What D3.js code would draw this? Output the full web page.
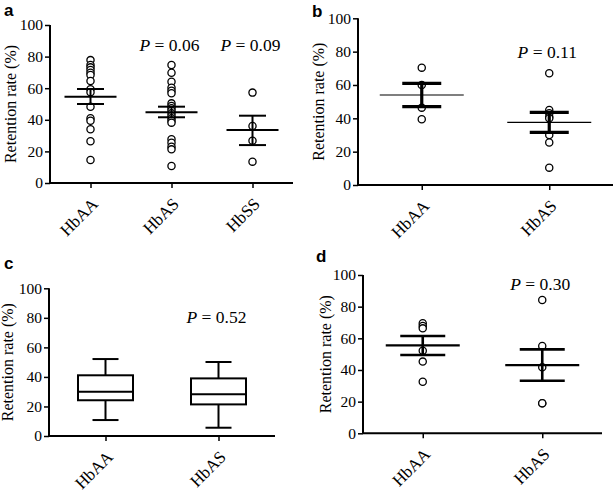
<!DOCTYPE html>
<html>
<head>
<meta charset="utf-8">
<script src="https://cdn.jsdelivr.net/npm/d3@7"></script>
<style>
  body { margin: 0; background: #fff; }
  text { font-family: "Liberation Serif", "Times New Roman", serif; fill: #000; }
</style>
</head>
<body>
<svg id="chart" width="614" height="492"></svg>
<script>
// panel a
const aGroups = ["HbAA", "HbAS", "HbSS"];
const aHbAA = [77.8, 74.7, 73.2, 71.5, 69.8, 68.4, 64.6, 59.3, 57.5, 48.3, 41, 39.4, 34, 26.4, 14.6];
const aHbAS = [74.7, 69.8, 64.1, 60.3, 58.4, 56.8, 50.4, 48.7, 47.3, 45.8, 44.1, 42.4, 41, 39.4, 38.2, 27.7, 25.5, 23, 21.3, 10.8];
const aHbSS = [57.2, 36.1, 26.8, 13.5];
const aMean = [54.6, 44.7, 33.5];
const aSemLow = [50, 41.6, 24];
const aSemHigh = [59.5, 48.3, 42.6];
const aP = ["", "0.06", "0.09"];

// panel b
const bGroups = ["HbAA", "HbAS"];
const bHbAA = [70.4, 60, 46.4, 39.4];
const bHbAS = [67, 45, 43, 41, 40, 30, 25.5, 10.4];
const bMean = [54, 37.6];
const bSemLow = [47, 31.6];
const bSemHigh = [61, 43.6];
const bP = ["", "0.11"];

// panel c (box plot)
const cGroups = ["HbAA", "HbAS"];
const cMin = [10.8, 5.6];
const cQ1 = [24.2, 21.4];
const cMedian = [30, 28.2];
const cQ3 = [41.1, 39];
const cMax = [52.1, 50.1];
const cP = ["", "0.52"];

// panel d
const dGroups = ["HbAA", "HbAS"];
const dHbAA = [69.5, 67.8, 66.3, 52.2, 45.3, 32.6];
const dHbAS = [84.2, 55.2, 41.7, 19, 19];
const dMean = [55.6, 43.1];
const dSemLow = [49.5, 33.2];
const dSemHigh = [61.5, 53];
const dP = ["", "0.30"];

const yTicks = [0, 20, 40, 60, 80, 100];

const svg = d3.select("#chart");
svg.append("rect").attr("width", 614).attr("height", 492).attr("fill", "#fff");

function drawPanel(cfg) {
  const x = d3.scalePoint().domain(cfg.groups).range([cfg.left, cfg.right]).padding(0.5);
  const y = d3.scaleLinear().domain([0, 100]).range([cfg.bottom, cfg.top]);
  const g = svg.append("g");

  // y axis
  const ya = g.append("g")
    .attr("transform", `translate(${cfg.left},0)`)
    .call(d3.axisLeft(y).tickValues(yTicks).tickSize(5).tickSizeOuter(0).tickPadding(2));
  ya.select(".domain").attr("stroke-width", 2).attr("d", `M0,${cfg.bottom}V${cfg.top}`);
  ya.selectAll(".tick line").attr("stroke-width", 1.5);
  ya.selectAll(".tick text").style("font-size", "15.5px").style("font-family", "Liberation Serif");

  // x axis
  const xa = g.append("g")
    .attr("transform", `translate(0,${cfg.bottom})`)
    .call(d3.axisBottom(x).tickSize(5).tickSizeOuter(0));
  xa.select(".domain").attr("stroke-width", 2).attr("d", `M${cfg.left},0H${cfg.right}`);
  xa.selectAll(".tick line").attr("stroke-width", 1.5);
  xa.selectAll(".tick text")
    .style("font-size", "17px")
    .style("font-family", "Liberation Serif")
    .attr("text-anchor", "end")
    .attr("dy", null)
    .attr("y", 0)
    .attr("transform", "translate(8,22) rotate(-45)");

  // y label
  g.append("text")
    .attr("transform", `translate(${cfg.labelX},${(cfg.top + cfg.bottom) / 2}) rotate(-90)`)
    .attr("text-anchor", "middle")
    .style("font-size", "16px")
    .text("Retention rate (%)");

  // panel letter
  g.append("text")
    .attr("x", cfg.letterX)
    .attr("y", cfg.letterY)
    .style("font-family", "Liberation Sans")
    .style("font-weight", "bold")
    .style("font-size", "17px")
    .text(cfg.letter);

  // P values
  cfg.groups.forEach((grp, i) => {
    if (!cfg.p[i]) return;
    const t = g.append("text")
      .attr("x", x(grp) - 2)
      .attr("y", y(cfg.pY))
      .attr("text-anchor", "middle")
      .style("font-size", "17.5px");
    t.append("tspan").style("font-style", "italic").text("P");
    t.append("tspan").text(" = " + cfg.p[i]);
  });

  return { g, x, y };
}

function drawDots(p, groups, series, mean, low, high, st) {
  const { g, x, y } = p;
  groups.forEach((grp, i) => {
    g.selectAll(null)
      .data(series[i])
      .join("circle")
      .attr("cx", x(grp))
      .attr("cy", (d) => y(d))
      .attr("r", 3.6)
      .attr("fill", "#fff")
      .attr("stroke", "#000")
      .attr("stroke-width", 1.3);
  });
  const cx = (i) => x(groups[i]);
  const idx = d3.range(groups.length);
  // mean line
  g.selectAll(null).data(idx).join("line")
    .attr("x1", (i) => cx(i) - st.meanHalf).attr("x2", (i) => cx(i) + st.meanHalf)
    .attr("y1", (i) => y(mean[i])).attr("y2", (i) => y(mean[i]))
    .attr("stroke", "#000").attr("stroke-width", st.meanW);
  // SEM stem
  g.selectAll(null).data(idx).join("line")
    .attr("x1", cx).attr("x2", cx)
    .attr("y1", (i) => y(low[i])).attr("y2", (i) => y(high[i]))
    .attr("stroke", "#000").attr("stroke-width", st.capW);
  // caps
  [low, high].forEach((arr) => {
    g.selectAll(null).data(idx).join("line")
      .attr("x1", (i) => cx(i) - st.capHalf).attr("x2", (i) => cx(i) + st.capHalf)
      .attr("y1", (i) => y(arr[i])).attr("y2", (i) => y(arr[i]))
      .attr("stroke", "#000").attr("stroke-width", st.capW);
  });
}

// a
const pa = drawPanel({ groups: aGroups, left: 50, right: 293, top: 25, bottom: 183,
  labelX: 16, letter: "a", letterX: 4, letterY: 16, p: aP, pY: 83.7 });
drawDots(pa, aGroups, [aHbAA, aHbAS, aHbSS], aMean, aSemLow, aSemHigh,
  { meanHalf: 26, meanW: 2, capHalf: 13.5, capW: 2 });

// b
const pb = drawPanel({ groups: bGroups, left: 358, right: 613, top: 18.3, bottom: 185,
  labelX: 324, letter: "b", letterX: 312, letterY: 17, p: bP, pY: 76 });
drawDots(pb, bGroups, [bHbAA, bHbAS], bMean, bSemLow, bSemHigh,
  { meanHalf: 42, meanW: 1.2, capHalf: 19.5, capW: 3.2 });

// c
const pc = drawPanel({ groups: cGroups, left: 49, right: 275, top: 288.3, bottom: 436,
  labelX: 13, letter: "c", letterX: 4, letterY: 269, p: cP, pY: 76.3 });
{
  const { g, x, y } = pc;
  const idx = d3.range(cGroups.length);
  const cx = (i) => x(cGroups[i]);
  const boxHalf = 27.5, capHalf = 13;
  g.selectAll(null).data(idx).join("line")
    .attr("x1", cx).attr("x2", cx)
    .attr("y1", (i) => y(cMin[i])).attr("y2", (i) => y(cQ1[i]))
    .attr("stroke", "#000").attr("stroke-width", 2);
  g.selectAll(null).data(idx).join("line")
    .attr("x1", cx).attr("x2", cx)
    .attr("y1", (i) => y(cQ3[i])).attr("y2", (i) => y(cMax[i]))
    .attr("stroke", "#000").attr("stroke-width", 2);
  [cMin, cMax].forEach((arr) => {
    g.selectAll(null).data(idx).join("line")
      .attr("x1", (i) => cx(i) - capHalf).attr("x2", (i) => cx(i) + capHalf)
      .attr("y1", (i) => y(arr[i])).attr("y2", (i) => y(arr[i]))
      .attr("stroke", "#000").attr("stroke-width", 2);
  });
  g.selectAll(null).data(idx).join("rect")
    .attr("x", (i) => cx(i) - boxHalf).attr("width", boxHalf * 2)
    .attr("y", (i) => y(cQ3[i])).attr("height", (i) => y(cQ1[i]) - y(cQ3[i]))
    .attr("fill", "#fff").attr("stroke", "#000").attr("stroke-width", 2);
  g.selectAll(null).data(idx).join("line")
    .attr("x1", (i) => cx(i) - boxHalf).attr("x2", (i) => cx(i) + boxHalf)
    .attr("y1", (i) => y(cMedian[i])).attr("y2", (i) => y(cMedian[i]))
    .attr("stroke", "#000").attr("stroke-width", 2);
}

// d
const pd = drawPanel({ groups: dGroups, left: 363, right: 602, top: 275, bottom: 433.3,
  labelX: 331, letter: "d", letterX: 316, letterY: 262, p: dP, pY: 90.5 });
drawDots(pd, dGroups, [dHbAA, dHbAS], dMean, dSemLow, dSemHigh,
  { meanHalf: 37, meanW: 2.2, capHalf: 22.5, capW: 2.6 });
</script>
</body>
</html>
